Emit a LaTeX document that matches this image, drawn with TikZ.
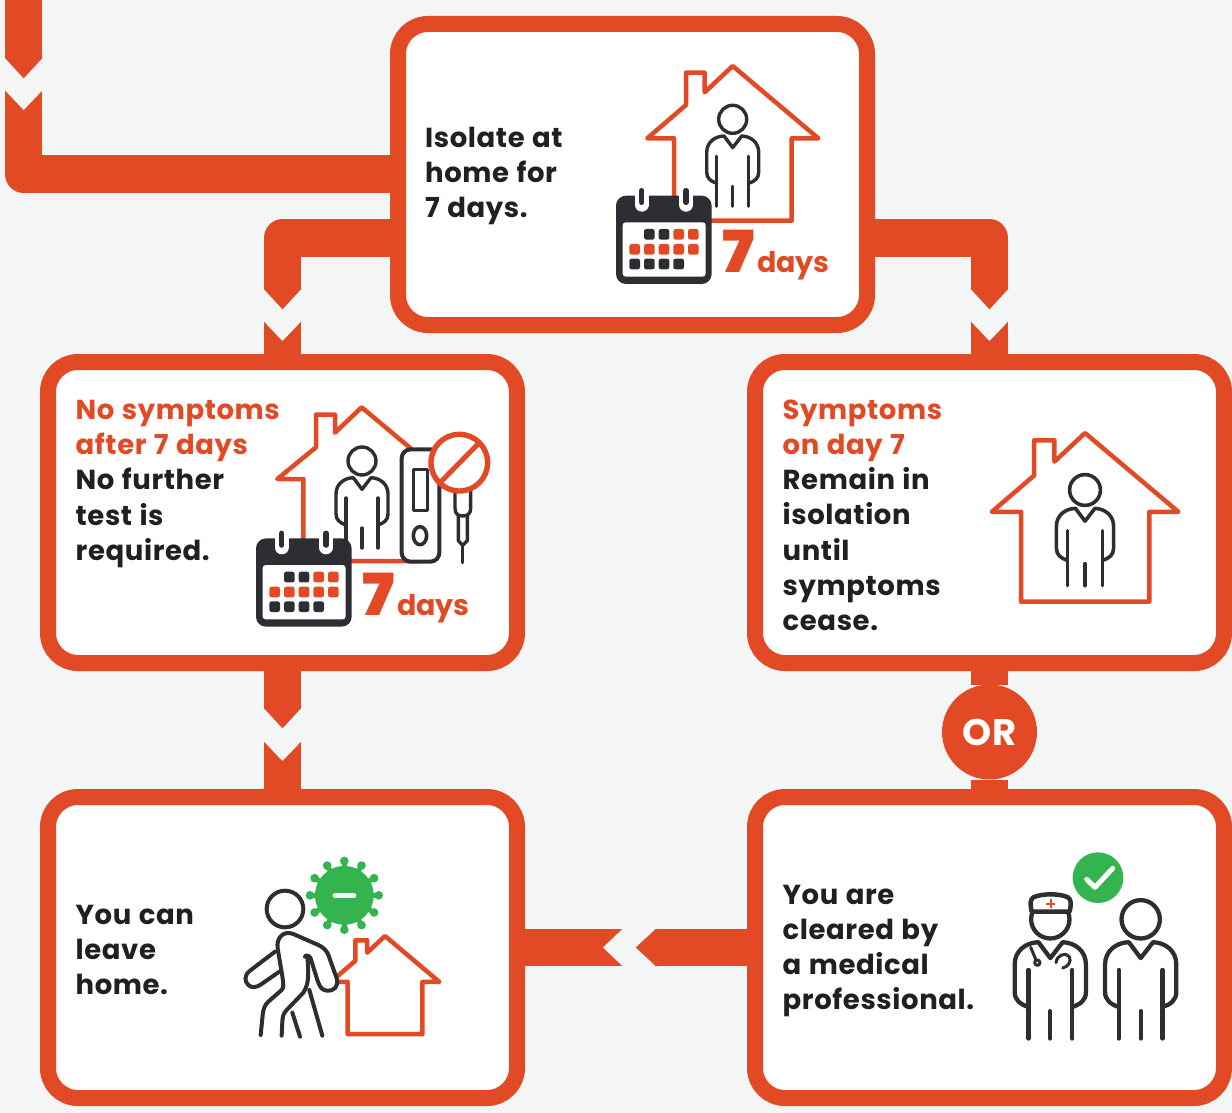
\documentclass[tikz,border=0pt]{standalone}
\usepackage{fontspec}
\setmainfont{Poppins}[UprightFont={* Bold},BoldFont={* Bold},LetterSpace=2.2,WordSpace=1.15]
\newfontfamily\heavyfont{Poppins}[UprightFont={* Black},FakeStretch=1.08]
\newfontfamily\daysfont{Poppins}[UprightFont={* Bold}]
\usetikzlibrary{calc}
\definecolor{org}{HTML}{E14A25}
\definecolor{pagebg}{HTML}{F4F6F5}
\definecolor{ink}{HTML}{2D2E33}
\definecolor{txt}{HTML}{231F20}
\definecolor{grn}{HTML}{34B44E}
\tikzset{
 x=1pt,y=-1pt,
 box/.style={draw=org,fill=white,line width=16pt,rounded corners=30pt,minimum width=469pt,minimum height=301pt,outer sep=0pt,inner sep=0pt},
 flow/.style={draw=org,line width=37.5pt,line join=round},
 label/.style={inner sep=0pt,anchor=west,align=left,text=txt,font=\fontsize{27.5}{35.3}\selectfont},
 sevenlab/.style={inner sep=0pt,anchor=base west,text=org,font=\heavyfont\fontsize{58}{58}\selectfont},
 dayslab/.style={inner sep=0pt,anchor=base west,text=org,font=\daysfont\fontsize{28.5}{28}\selectfont},
 ol/.style={draw=org,line width=4.5pt,line join=round,line cap=round},
 il/.style={draw=ink,line cap=round,line join=round},
 pics/house/.style={code={
  \path[fill=white] (0,0) -- (-85.4,72.3) -- (-58.7,72.3) -- (-58.7,154.7) -- (59,154.7) -- (59,72.3) -- (85.6,72.3) -- cycle;
  \draw[ol] (0,0) -- (-28,26.3) -- (-28,6.7) -- (-46.7,6.7) -- (-46.7,39) -- (-85.4,72.3) -- (-58.7,72.3) -- (-58.7,154.7) -- (59,154.7) -- (59,72.3) -- (85.6,72.3) -- cycle;
 }},
 pics/person/.style={code={
  \draw[il] (0,0) circle (14);
  \draw[il] (-16,64) .. controls (-22,62) and (-26,59) .. (-26,53) -- (-26,33) .. controls (-26,23) and (-18,17) .. (-8.7,16.7) -- (0,28.3) -- (9,16.7) .. controls (18,17) and (26,23) .. (26,33) -- (26,53) .. controls (26,59) and (22,62) .. (16,64);
  \draw[il] (-16,37) -- (-16,87);
  \draw[il] (16,37) -- (16,87);
  \draw[il] (0,67) -- (0,87);
 }},
 pics/calendar/.style={code={
  \fill[ink,rounded corners=10] (48,437) rectangle (335,702);
  \fill[white,rounded corners=3] (68,517) rectangle (317,680);
  \foreach \cx in {125,258}{
   \draw[white,line width=14pt,line cap=round] (\cx,425) -- (\cx,464);
   \draw[ink,line width=5.5pt,line cap=round] (\cx,422) -- (\cx,457);
  }
  \foreach \cx/\cy/\cc in {148/553/ink,192/553/ink,236/553/org,280/553/org,
    104/598/org,148/598/org,192/598/org,236/598/org,280/598/org,
    104/642/ink,148/642/ink,192/642/ink,236/642/ink}{
   \fill[\cc,rounded corners=2.3] (\cx-16,\cy-16) rectangle (\cx+16,\cy+16);
  }
 }},
}
\begin{document}
\begin{tikzpicture}
\useasboundingbox (0,0) rectangle (1232,1113);
\fill[pagebg] (0,0) rectangle (1232,1113);

% connector coordinates
\coordinate (inTop) at (23.7,-10);
\coordinate (inTip) at (23.7,58);
\coordinate (inTail) at (23.7,89);
\coordinate (inBend) at (23.7,174);
\coordinate (lBar) at (282.5,238);
\coordinate (lTip) at (282.5,289);
\coordinate (lTail) at (282.5,320);
\coordinate (rBar) at (989.5,238);
\coordinate (rTip) at (989.5,289);
\coordinate (rTail) at (989.5,320);
\coordinate (dTip) at (282.5,708);
\coordinate (dTail) at (282.5,740);
\coordinate (hTip) at (656,947.5);
\coordinate (hTail) at (624,947.5);

% boxes
\node[box] (top) at (632.5,174.5) {};
\node[box] (noSym) at (282.5,512.5) {};
\node[box] (sym) at (989.5,512.5) {};
\node[box] (leave) at (282.5,947.5) {};
\node[box] (clear) at (989.5,947.5) {};
\node[circle,fill=org,minimum size=95pt,inner sep=0pt,outer sep=0pt,text=white,font=\fontsize{37}{37}\selectfont] (orn) at (989.5,732) {OR};

% connectors
\draw[flow] (inTop) -- (inTip);
\draw[flow] (inTail) -- (inBend) -- (top.west |- inBend);
\draw[flow] (top.west |- lBar) -- (lBar) -- (lTip);
\draw[flow] (lTail) -- (noSym.north);
\draw[flow] (top.east |- rBar) -- (rBar) -- (rTip);
\draw[flow] (rTail) -- (sym.north);
\draw[flow] (noSym.south) -- (dTip);
\draw[flow] (dTail) -- (leave.north);
\draw[flow] (sym.south) -- (orn.north);
\draw[flow] (orn.south) -- (clear.north);
\draw[flow] (clear.west) -- (hTip);
\draw[flow] (hTail) -- (leave.east);
% pointed heads of the connectors
\foreach \c/\a in {inTip/0,lTip/0,rTip/0,dTip/0,hTip/-90}{
 \fill[org,shift={(\c)},rotate=\a] (-18.75,-0.5) -- (18.75,-0.5) -- (18.75,0) -- (0,20.3) -- (-18.75,0) -- cycle;
}
% notches of the connector tails
\foreach \c/\a in {inTail/0,lTail/0,rTail/0,dTail/0,hTail/-90}{
 \fill[pagebg,shift={(\c)},rotate=\a] (-20,-1) -- (20,-1) -- (20,0) -- (0,21) -- (-20,0) -- cycle;
}

% texts
\node[label] (t1) at (425,176) {Isolate at\\home for\\7 days.};
\node[label] (t2) at (75.5,484) {\textcolor{org}{No symptoms}\\\textcolor{org}{after 7 days}\\No further\\test is\\required.};
\node[label] (t3) at (782.5,515.3) {\textcolor{org}{Symptoms}\\\textcolor{org}{on day 7}\\Remain in\\isolation\\until\\symptoms\\cease.};
\node[label] (t4) at (75.5,950) {You can\\leave\\home.};
\node[label] (t5) at (782.5,951) {You are\\cleared by\\a medical\\professional.};

% icon: isolate
\pic at (732.7,66) {house};
\pic[line width=3.4pt] at (732.7,119.3) {person};
\pic[scale=1/3] at (600,50) {calendar};
\node[sevenlab] (s1) at (722.5,272.5) {7};
\node[dayslab] (d1) at (757,272.5) {days};

% icon: no symptoms
\begin{scope}[shift={(240,390)},scale=1/3]
 \draw[ol] (512,175) -- (365,52) -- (285,128) -- (285,74) -- (228,74) -- (228,172) -- (112,267) -- (190,267) -- (190,513) -- (540,513);
\end{scope}
\pic[line width=3.4pt] at (362,461) {person};
\pic[scale=1/3] at (240,392.7) {calendar};
\begin{scope}[shift={(240,390)},scale=1/3]
 \draw[il,line width=4pt,fill=white,rounded corners=9] (485,178) rectangle (598,515);
 \draw[il,line width=3.6pt,fill=white] (520,238) rectangle (562,362);
 \draw[il,line width=3.6pt] (540,437) ellipse (20 and 27);
 \draw[il,line width=3.4pt] (645,300) -- (645,355) .. controls (645,372) and (655,378) .. (668,378) .. controls (682,378) and (692,372) .. (692,355) -- (692,300);
 \draw[il,line width=3.4pt] (655,378) -- (655,452) -- (668,466) -- (682,452) -- (682,378);
 \draw[il,line width=3.4pt] (668,466) -- (668,518);
 \draw[draw=org,line width=5.4pt,fill=white] (658,218) circle (85);
 \draw[draw=org,line width=5pt] (600,278) -- (718,158);
\end{scope}
\node[sevenlab] (s2) at (362.5,615) {7};
\node[dayslab] (d2) at (397,615) {days};

% icon: symptoms
\pic[scale=1.09] at (1085,433) {house};
\pic[scale=1.1,line width=3.6pt] at (1085,490) {person};

% icon: leave home
\pic[scale=0.635] at (385,936) {house};
\begin{scope}[shift={(230,840)},scale=1/3]
 \foreach \a in {0,30,...,330}{
  \draw[grn,line width=5pt,line cap=round] (343,166) -- ++(\a:98);
  \fill[grn] (343,166) ++(\a:103) circle (13);
 }
 \fill[grn] (343,166) circle (88);
 \draw[white,line width=4.6pt,line cap=round] (315,166) -- (372,166);
 \draw[il,line width=4pt] (165,207) circle (55);
 \draw[il,line width=4pt,fill=white] (135,335) -- (60,392) .. controls (40,408) and (45,425) .. (55,435) .. controls (65,445) and (80,442) .. (92,434) -- (148,395);
 \draw[il,line width=4pt,fill=white] (92,585) -- (98,525) .. controls (100,505) and (105,495) .. (115,485) -- (155,450) .. controls (162,443) and (160,430) .. (158,415) -- (143,325) .. controls (138,295) and (160,270) .. (190,282) -- (265,315) .. controls (285,325) and (292,335) .. (297,350) -- (320,415) .. controls (328,440) and (310,455) .. (290,452) .. controls (272,450) and (268,435) .. (262,420) -- (242,355) .. controls (238,345) and (225,345) .. (225,350);
 \draw[il,line width=4pt] (232,350) .. controls (236,400) and (238,430) .. (220,458) -- (170,510) .. controls (160,520) and (158,530) .. (157,545) -- (155,587);
 \draw[il,line width=4pt] (238,450) -- (277,587);
 \draw[il,line width=4pt] (187,518) -- (210,590);
\end{scope}

% icon: cleared
\pic[scale=1.37,line width=4.3pt] at (1050.3,919.3) {person};
\pic[scale=1.37,line width=4.3pt] at (1140.7,919.3) {person};
\begin{scope}[shift={(1000,840)},scale=1/3]
 \fill[white] (90,160) rectangle (214,216);
 \draw[il,line width=4.5pt,fill=white] (95,215) .. controls (90,190) and (90,180) .. (100,172) .. controls (125,160) and (180,160) .. (204,172) .. controls (214,180) and (214,190) .. (209,215) -- cycle;
 \draw[org,line width=2.2pt] (152,178) -- (152,204);
 \draw[org,line width=2.2pt] (139,191) -- (165,191);
 \draw[il,line width=3pt] (92,322) -- (108,360);
 \draw[il,line width=3pt] (112,368) circle (8);
 \draw[il,line width=3pt] (168,368) .. controls (170,345) and (198,335) .. (208,350) .. controls (215,365) and (205,380) .. (188,384);
 \fill[grn] (294,113) circle (76);
 \draw[white,line width=5pt,line cap=round,line join=round] (260,118) -- (285,142) -- (338,85);
\end{scope}
\end{tikzpicture}
\end{document}
